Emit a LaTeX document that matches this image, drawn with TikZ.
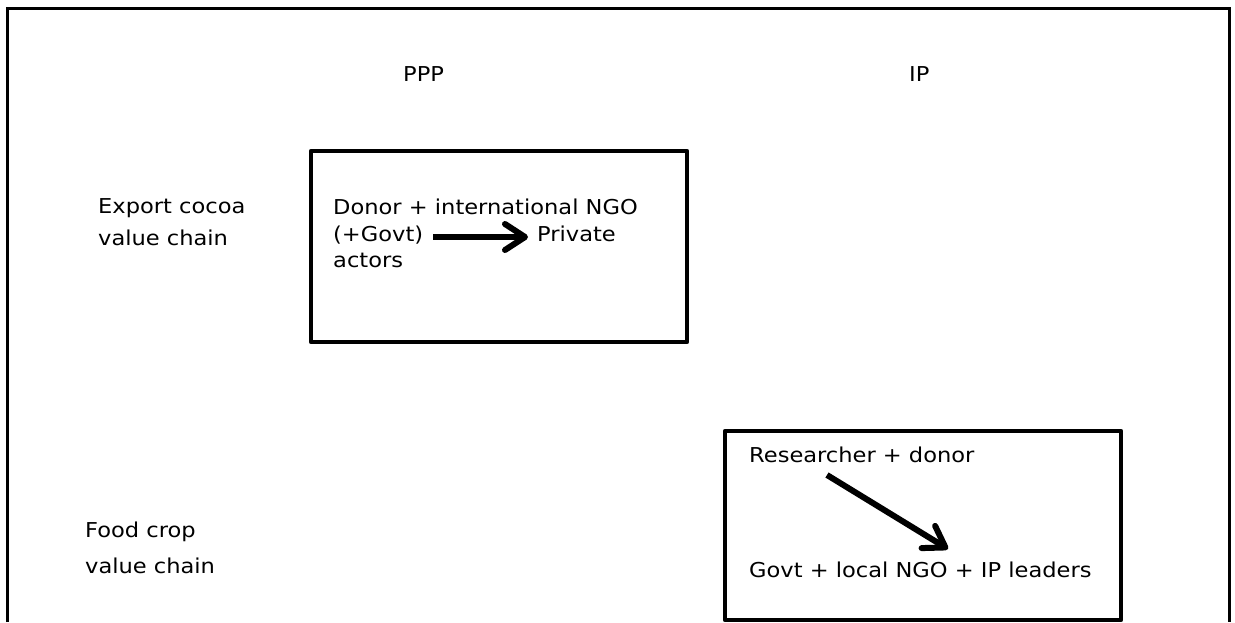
\documentclass[tikz,border=0pt]{standalone}
\usepackage{fontspec}
\setmainfont{DejaVu Sans}[FakeStretch=1.1]
\usetikzlibrary{arrows.meta,calc}
\begin{document}
\begin{tikzpicture}[x=1pt,y=-1pt,
  lbl/.style={anchor=base west,inner sep=0pt,font=\fontsize{20.5}{24}\selectfont},
  frame/.style={line width=3pt},
  boxline/.style={line width=4.5pt,line join=round},
  bigarrow/.style={line width=6pt,-{Straight Barb[length=20pt,width=26pt,line cap=round,line join=round]}}]
\useasboundingbox (0,0) rectangle (1235,622);
\fill[white] (0,0) rectangle (1235,622);
% outer frame (open at bottom)
\draw[frame] (7,622) -- (7,8) -- (1229,8) -- (1229,622);
% column headings
\node[lbl] (ppp) at (403,81) {PPP};
\node[lbl] (ip) at (909,81) {IP};
% row labels
\node[lbl] (exp1) at (98,213) {Export cocoa};
\node[lbl] (exp2) at (98,245) {value chain};
\node[lbl] (food1) at (85,537) {Food crop};
\node[lbl] (food2) at (85,573) {value chain};
% box 1
\draw[boxline] (311,151) rectangle (687,342);
\node[lbl] (donor) at (333,214) {Donor + international NGO};
\node[lbl] (govt) at (333,241) {(+Govt)};
\node[lbl] (private) at (537,241) {Private};
\node[lbl] (actors) at (333,267) {actors};
\draw[bigarrow] ($(govt.base east)+(10,-4)$) -- ($(private.base west)+(-9,-4)$);
% box 2
\draw[boxline] (725,431) rectangle (1121,620);
\node[lbl] (res) at (749,462) {Researcher + donor};
\node[lbl] (leaders) at (749,577) {Govt + local NGO + IP leaders};
\coordinate (a1) at (827,475);
\coordinate (a2) at (948,549);
\draw[bigarrow] (a1) -- (a2);
\end{tikzpicture}
\end{document}
